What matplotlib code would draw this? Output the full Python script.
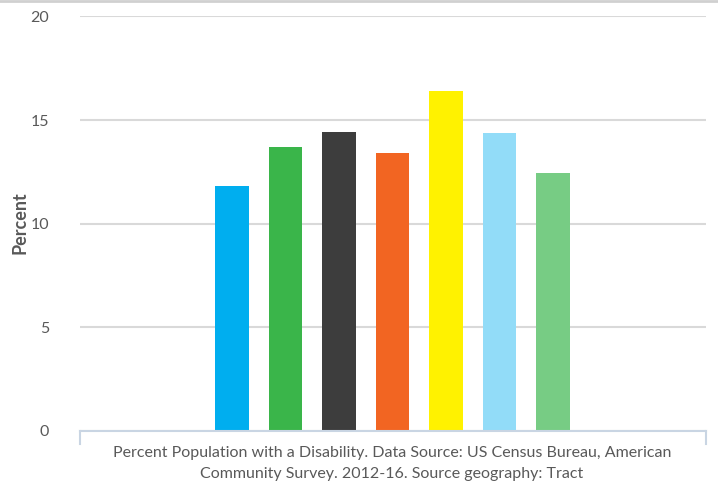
import numpy as np
import matplotlib
matplotlib.use('Agg')
import matplotlib.pyplot as plt
from matplotlib.lines import Line2D

# Values
values = [11.8, 13.7, 14.45, 13.4, 16.4, 14.4, 12.45]
colors = ['#00AEEF', '#3AB54A', '#3D3D3D', '#F26522', '#FFF200', '#92DCF8', '#77CC84']
yticks = [0, 5, 10, 15, 20]
ylabel = 'Percent'
caption = ('Percent Population with a Disability. Data Source: US Census Bureau, American\n'
           'Community Survey. 2012-16. Source geography: Tract')

plt.rcParams['font.family'] = ['Lato', 'DejaVu Sans']
text_color = '#595959'

W, H = 718, 487
fig = plt.figure(figsize=(W / 100, H / 100), dpi=100)
ax = fig.add_axes([79.5 / W, (H - 431) / H, (705.5 - 79.5) / W, (431 - 16.5) / H])

x = np.arange(len(values))
ax.bar(x, values, width=0.634, color=colors, zorder=3)

ax.set_xlim(-2.85, 8.85)
ax.set_ylim(0, 20)
ax.set_yticks(yticks)
ax.set_yticklabels([str(t) for t in yticks], color=text_color, fontsize=11.5)
ax.tick_params(axis='y', length=0, pad=22)
ax.set_xticks([])
ax.grid(axis='y', color='#d9d9d9', linewidth=1.5, zorder=0)

for side in ['top', 'right', 'left']:
    ax.spines[side].set_visible(False)
ax.spines['bottom'].set_color('#c9d5e3')
ax.spines['bottom'].set_linewidth(1.5)
ax.spines['bottom'].set_zorder(4)

# small end ticks on the category axis
for xe in [79.5, 705.5]:
    fig.add_artist(Line2D([xe / W, xe / W], [(H - 431) / H, (H - 444) / H],
                          color='#c9d5e3', linewidth=1.5))

# top border line
fig.add_artist(Line2D([0, 1], [1 - 0.8 / H, 1 - 0.8 / H], color='#d0d0d0', linewidth=2))

fig.text(20 / W, (H - 223) / H, ylabel, rotation=90, ha='center', va='center',
         fontsize=13, fontweight='bold', color=text_color)
fig.text(392 / W, (H - 463.5) / H, caption, ha='center', va='center',
         fontsize=11.5, color=text_color, linespacing=1.55)

fig.savefig('out.png', dpi=100)
